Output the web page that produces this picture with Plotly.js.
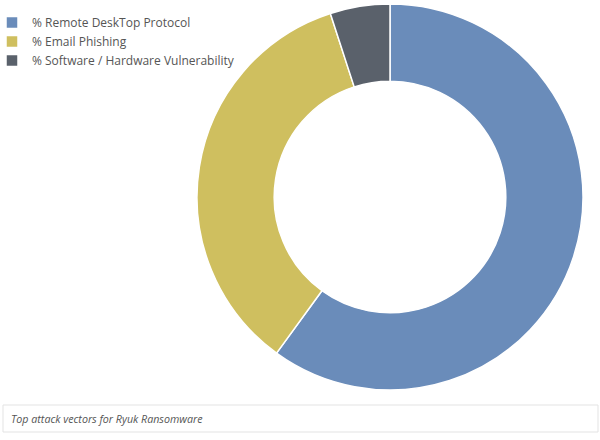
<!DOCTYPE html>
<html>
<head>
<meta charset="utf-8">
<script src="https://cdn.plot.ly/plotly-3.0.1.min.js"></script>
<style>html,body{margin:0;padding:0;background:#fff;}#chart{width:600px;height:440px;}</style>
</head>
<body>
<div id="chart"></div>
<script>
const categories = ["% Remote DeskTop Protocol", "% Email Phishing", "% Software / Hardware Vulnerability"];
const values = [60, 35, 5];
const colors = ["#6a8cba", "#cfbf5f", "#5a616b"];
const caption = "Top attack vectors for Ryuk Ransomware";

const W = 600, H = 440;
const trace = {
  type: "pie",
  labels: categories,
  values: values,
  hole: 0.6,
  sort: false,
  direction: "clockwise",
  rotation: 0,
  textinfo: "none",
  hoverinfo: "label+percent",
  marker: {colors: colors, line: {color: "#ffffff", width: 1.5}},
  domain: {x: [197 / W, 583 / W], y: [1 - 390 / H, 1 - 4 / H]}
};

const layout = {
  width: W, height: H,
  margin: {l: 0, r: 0, t: 0, b: 0, autoexpand: false},
  paper_bgcolor: "#ffffff",
  showlegend: true,
  legend: {
    x: -8 / W, y: 1 - 8 / H, xanchor: "left", yanchor: "top",
    font: {family: "Open Sans", size: 12, color: "#555555"},
    tracegroupgap: 0, itemwidth: 30
  },
  shapes: [{
    type: "rect", xref: "paper", yref: "paper",
    x0: 3 / W, x1: 598 / W, y0: 1 - 432 / H, y1: 1 - 405 / H,
    line: {color: "#e3e3e3", width: 1}, fillcolor: "rgba(0,0,0,0)"
  }],
  annotations: [{
    xref: "paper", yref: "paper", x: 9 / W, y: 1 - 418.5 / H,
    xanchor: "left", yanchor: "middle", showarrow: false,
    text: "<i>" + caption + "</i>",
    font: {family: "Open Sans", size: 10.7, color: "#555555"}
  }]
};

Plotly.newPlot("chart", [trace], layout, {displayModeBar: false, staticPlot: true});
</script>
</body>
</html>
